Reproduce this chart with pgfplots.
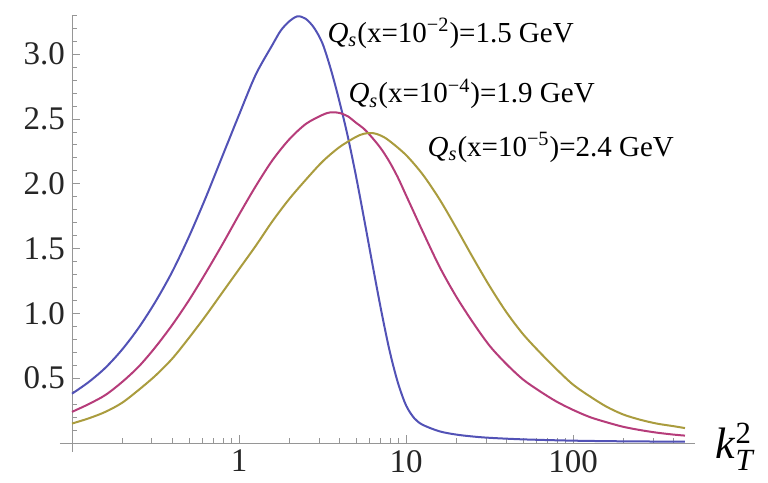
\documentclass[border=0pt]{standalone}
\usepackage{amsmath}
\usepackage{fontspec}
\setmainfont{Liberation Serif}
\usepackage{pgfplots}
\pgfplotsset{compat=1.18}
\definecolor{mmaBlue}{RGB}{82,82,182}
\definecolor{mmaMag}{RGB}{182,60,122}
\definecolor{mmaGold}{RGB}{170,156,62}
\definecolor{axisgray}{RGB}{150,150,150}

\begin{document}
\begin{tikzpicture}
\useasboundingbox (0,0) rectangle (384pt,241.5pt);
\begin{axis}[
  at={(36pt,20pt)}, anchor=south west,
  scale only axis,
  width=306.5pt, height=214pt,
  xmode=log,
  xmin=0.1, xmax=467.7,
  ymin=0, ymax=3.3,
  axis lines=left,
  axis line style={-, axisgray},
  x axis line style={shorten <=-6pt, shorten >=-5pt},
  y axis line style={shorten <=-4.5pt},
  xtick={1,10,100}, xticklabels={1,10,100},
  minor xtick={0.2,0.3,0.4,0.5,0.6,0.7,0.8,0.9,2,3,4,5,6,7,8,9,20,30,40,50,60,70,80,90,200,300,400},
  ytick={0.5,1,1.5,2,2.5,3}, yticklabels={0.5,1.0,1.5,2.0,2.5,3.0},
  minor ytick={0.1,0.2,0.3,0.4,0.6,0.7,0.8,0.9,1.1,1.2,1.3,1.4,1.6,1.7,1.8,1.9,2.1,2.2,2.3,2.4,2.6,2.7,2.8,2.9,3.1,3.2,3.3},
  tick align=inside,
  major tick length=4pt, minor tick length=2.5pt,
  tick style={axisgray},
  tick label style={font=\fontsize{16.5}{18}\selectfont, text=black!85},
  clip=false,
]

% Q_s = 1.5 GeV (x=1e-2)
\addplot [color=mmaBlue, line width=1pt, smooth] coordinates {
  (0.1,0.38) (0.1259,0.47) (0.1585,0.58) (0.1995,0.72) (0.2512,0.89)
  (0.3162,1.09) (0.3981,1.32) (0.5012,1.59) (0.631,1.89) (0.7943,2.21)
  (1,2.53) (1.259,2.84) (1.585,3.07) (1.778,3.18) (1.995,3.25)
  (2.239,3.29) (2.512,3.27) (2.818,3.20) (3.162,3.08) (3.548,2.88)
  (3.981,2.64) (4.467,2.37) (5.012,2.06) (5.623,1.72) (6.31,1.37)
  (7.079,1.03) (7.943,0.72) (8.913,0.47) (10,0.29) (11.22,0.19)
  (12.59,0.14) (15.85,0.09) (19.95,0.065) (25.12,0.05) (31.62,0.04)
  (50.12,0.028) (100,0.018) (199.5,0.013) (467.7,0.01)
};

% Q_s = 1.9 GeV (x=1e-4)
\addplot [color=mmaMag, line width=1pt, smooth] coordinates {
  (0.1,0.24) (0.1259,0.30) (0.1585,0.37) (0.1995,0.47) (0.2512,0.59)
  (0.3162,0.74) (0.3981,0.91) (0.5012,1.10) (0.631,1.31) (0.7943,1.53)
  (1,1.76) (1.259,1.98) (1.585,2.18) (1.995,2.34) (2.512,2.46)
  (3.162,2.53) (3.548,2.55) (3.981,2.545) (4.467,2.52) (5.012,2.47)
  (5.623,2.42) (6.31,2.35) (7.079,2.27) (7.943,2.17) (8.913,2.05)
  (10,1.91) (11.22,1.77) (12.59,1.63) (15.85,1.36) (19.95,1.13)
  (25.12,0.93) (31.62,0.75) (39.81,0.61) (50.12,0.49) (63.1,0.40)
  (79.43,0.32) (100,0.255) (125.9,0.20) (158.5,0.16) (199.5,0.125)
  (251.2,0.10) (316.2,0.08) (398.1,0.065) (467.7,0.057)
};

% Q_s = 2.4 GeV (x=1e-5)
\addplot [color=mmaGold, line width=1pt, smooth] coordinates {
  (0.1,0.15) (0.1259,0.19) (0.1585,0.24) (0.1995,0.31) (0.2512,0.41)
  (0.3162,0.52) (0.3981,0.65) (0.5012,0.81) (0.631,0.98) (0.7943,1.16)
  (1,1.34) (1.259,1.52) (1.585,1.71) (1.995,1.88) (2.512,2.03)
  (3.162,2.17) (3.981,2.28) (5.012,2.36) (5.623,2.385) (6.31,2.39)
  (7.079,2.37) (7.943,2.33) (10,2.22) (12.59,2.07) (15.85,1.88)
  (19.95,1.66) (25.12,1.43) (31.62,1.21) (39.81,1.01) (50.12,0.84)
  (63.1,0.70) (79.43,0.57) (100,0.45) (125.9,0.36) (158.5,0.28)
  (199.5,0.22) (251.2,0.18) (316.2,0.15) (398.1,0.13) (467.7,0.115)
};

\node[anchor=west, inner sep=0pt, font=\fontsize{14.5}{16}\selectfont]
  at (axis cs:3.37,3.16) {\textit{Q}\textsubscript{\textit{s}}(x=10\textsuperscript{−2})=1.5 GeV};
\node[anchor=west, inner sep=0pt, font=\fontsize{14.5}{16}\selectfont]
  at (axis cs:4.5,2.69) {\textit{Q}\textsubscript{\textit{s}}(x=10\textsuperscript{−4})=1.9 GeV};
\node[anchor=west, inner sep=0pt, font=\fontsize{14.5}{16}\selectfont]
  at (axis cs:13.4,2.28) {\textit{Q}\textsubscript{\textit{s}}(x=10\textsuperscript{−5})=2.4 GeV};

\node[anchor=west, inner sep=0pt, xshift=15pt, yshift=-2pt, font=\fontsize{22}{24}\selectfont]
  at (axis description cs:1,0) {\textit{k}$^{\text{2}}_{\textit{T}}$};
\end{axis}
\end{tikzpicture}
\end{document}
